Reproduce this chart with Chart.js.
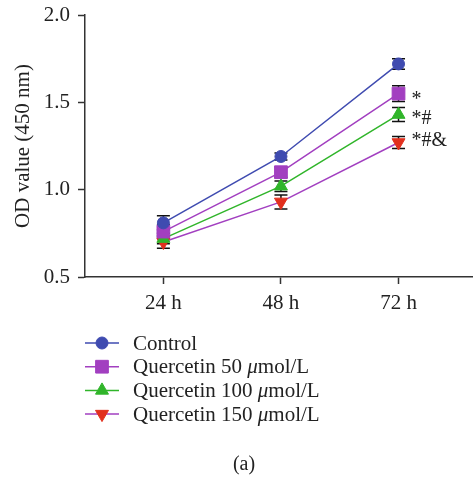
<!DOCTYPE html>
<html lang="en">
<head>
<meta charset="UTF-8">
<title>OD value (450 nm)</title>
<script src="https://cdn.jsdelivr.net/npm/chart.js"></script>
<style>
  html, body { margin: 0; padding: 0; background: #fff; }
  #wrap { width: 473px; height: 481px; }
</style>
</head>
<body>
<div id="wrap"><canvas id="odChart" width="473" height="481"></canvas></div>
<script>
// time points (h) and OD readings per group
const hours = [24, 48, 72];
const groupNames = ["Control", "Quercetin 50 μmol/L", "Quercetin 100 μmol/L", "Quercetin 150 μmol/L"];
const control = [0.81, 1.19, 1.72];
const q50 = [0.76, 1.10, 1.55];
const q100 = [0.72, 1.02, 1.43];
const q150 = [0.70, 0.93, 1.27];
const controlErr = [0.04, 0.02, 0.03];
const q50Err = [0.04, 0.03, 0.045];
const q100Err = [0.03, 0.03, 0.04];
const q150Err = [0.035, 0.04, 0.035];
const sigMarks = ["", "*", "*#", "*#&"];
const yTicks = [0.5, 1.0, 1.5, 2.0];

const FONT = "'Liberation Serif', 'DejaVu Serif', serif";
const INK = "#222";

const styles = [
  { line: "#3f4bb0", fill: "#3f4bb0", shape: "circle", r: 6, rot: 0 },
  { line: "#a23fc0", fill: "#a23fc0", shape: "rect", r: 9, rot: 0 },
  { line: "#30b52a", fill: "#30b52a", shape: "triangle", r: 7.5, rot: 0 },
  { line: "#a23fc0", fill: "#e2301e", shape: "triangle", r: 7.5, rot: 180 }
];
const values = [control, q50, q100, q150];
const errors = [controlErr, q50Err, q100Err, q150Err];

const datasets = values.map((vals, i) => ({
  label: groupNames[i],
  data: hours.map((h, j) => ({ x: h, y: vals[j] })),
  borderColor: styles[i].line,
  borderWidth: 1.5,
  pointStyle: styles[i].shape,
  pointRotation: styles[i].rot,
  pointRadius: styles[i].r,
  pointHoverRadius: styles[i].r,
  pointBackgroundColor: styles[i].fill,
  pointBorderColor: styles[i].fill,
  pointBorderWidth: 1,
  tension: 0
}));

// error bars, drawn under the markers
const errorBars = {
  id: "errorBars",
  beforeDatasetsDraw(chart) {
    const { ctx, scales: { x, y } } = chart;
    ctx.save();
    ctx.strokeStyle = "#111";
    ctx.lineWidth = 1.5;
    values.forEach((vals, i) => {
      vals.forEach((v, j) => {
        const px = x.getPixelForValue(hours[j]);
        const top = y.getPixelForValue(v + errors[i][j]);
        const bot = y.getPixelForValue(v - errors[i][j]);
        ctx.beginPath();
        ctx.moveTo(px, top); ctx.lineTo(px, bot);
        ctx.moveTo(px - 6.5, top); ctx.lineTo(px + 6.5, top);
        ctx.moveTo(px - 6.5, bot); ctx.lineTo(px + 6.5, bot);
        ctx.stroke();
      });
    });
    ctx.restore();
  }
};

// significance marks beside the 72 h points
const markOffsets = [0, 2, 0, -6];
const sigLabels = {
  id: "sigLabels",
  afterDatasetsDraw(chart) {
    const { ctx, scales: { x, y } } = chart;
    const last = hours.length - 1;
    ctx.save();
    ctx.font = "20px " + FONT;
    ctx.fillStyle = INK;
    ctx.textAlign = "left";
    ctx.textBaseline = "middle";
    sigMarks.forEach((m, i) => {
      if (!m) return;
      const px = x.getPixelForValue(hours[last]) + 13;
      const py = y.getPixelForValue(values[i][last]) + markOffsets[i] + 4;
      ctx.fillText(m, px, py);
    });
    ctx.restore();
  }
};

// legend below the plot, line with marker through it, plus panel caption
const legendBelow = {
  id: "legendBelow",
  afterDraw(chart) {
    const ctx = chart.ctx;
    ctx.save();
    datasets.forEach((ds, i) => {
      const cy = 343 + i * 23.7;
      ctx.strokeStyle = ds.borderColor;
      ctx.lineWidth = 1.5;
      ctx.beginPath();
      ctx.moveTo(85, cy); ctx.lineTo(119, cy);
      ctx.stroke();
      ctx.fillStyle = ds.pointBackgroundColor;
      ctx.strokeStyle = ds.pointBorderColor;
      ctx.lineWidth = 1;
      Chart.helpers.drawPoint(ctx, {
        pointStyle: ds.pointStyle, rotation: ds.pointRotation,
        radius: ds.pointRadius, borderWidth: 1
      }, 102, cy);

      // label, with the μ set in italic
      ctx.fillStyle = INK;
      ctx.textBaseline = "middle";
      ctx.textAlign = "left";
      let tx = 133;
      const parts = ds.label.split("μ");
      ctx.font = "21px " + FONT;
      ctx.fillText(parts[0], tx, cy + 1);
      if (parts.length > 1) {
        tx += ctx.measureText(parts[0]).width;
        ctx.font = "italic 21px " + FONT;
        ctx.fillText("μ", tx, cy + 1);
        tx += ctx.measureText("μ").width;
        ctx.font = "21px " + FONT;
        ctx.fillText(parts[1], tx, cy + 1);
      }
    });
    ctx.font = "20px " + FONT;
    ctx.textAlign = "center";
    ctx.fillText("(a)", 244, 465);
    ctx.restore();
  }
};

Chart.defaults.font.family = FONT;
Chart.defaults.font.size = 21;
Chart.defaults.color = INK;

new Chart(document.getElementById("odChart"), {
  type: "line",
  data: { datasets },
  options: {
    responsive: false,
    devicePixelRatio: 1,
    animation: false,
    layout: { autoPadding: false, padding: { top: 15, right: 1, bottom: 164, left: 0 } },
    plugins: { legend: { display: false }, tooltip: { enabled: false } },
    scales: {
      x: {
        type: "linear",
        min: 8,
        max: 87,
        afterBuildTicks: s => { s.ticks = hours.map(v => ({ value: v })); },
        // fixed axis box; no extra room for edge labels
        afterFit: s => { s.height = 40; s.paddingLeft = 0; s.paddingRight = 0; },
        ticks: { callback: v => v + " h", padding: 7 },
        grid: { drawOnChartArea: false, tickLength: 7, color: "#333", tickWidth: 1.5 },
        border: { color: "#333", width: 1.5 }
      },
      y: {
        min: 0.5,
        max: 2.0,
        afterBuildTicks: s => { s.ticks = yTicks.map(v => ({ value: v })); },
        afterFit: s => { s.width = 85; s.paddingTop = 0; s.paddingBottom = 0; },
        ticks: { callback: v => v.toFixed(1), padding: 8 },
        grid: { drawOnChartArea: false, tickLength: 7, color: "#333", tickWidth: 1.5 },
        border: { color: "#333", width: 1.5 },
        title: { display: true, text: "OD value (450 nm)", padding: { top: 11, bottom: 0 } }
      }
    }
  },
  plugins: [errorBars, sigLabels, legendBelow]
});
</script>
</body>
</html>
